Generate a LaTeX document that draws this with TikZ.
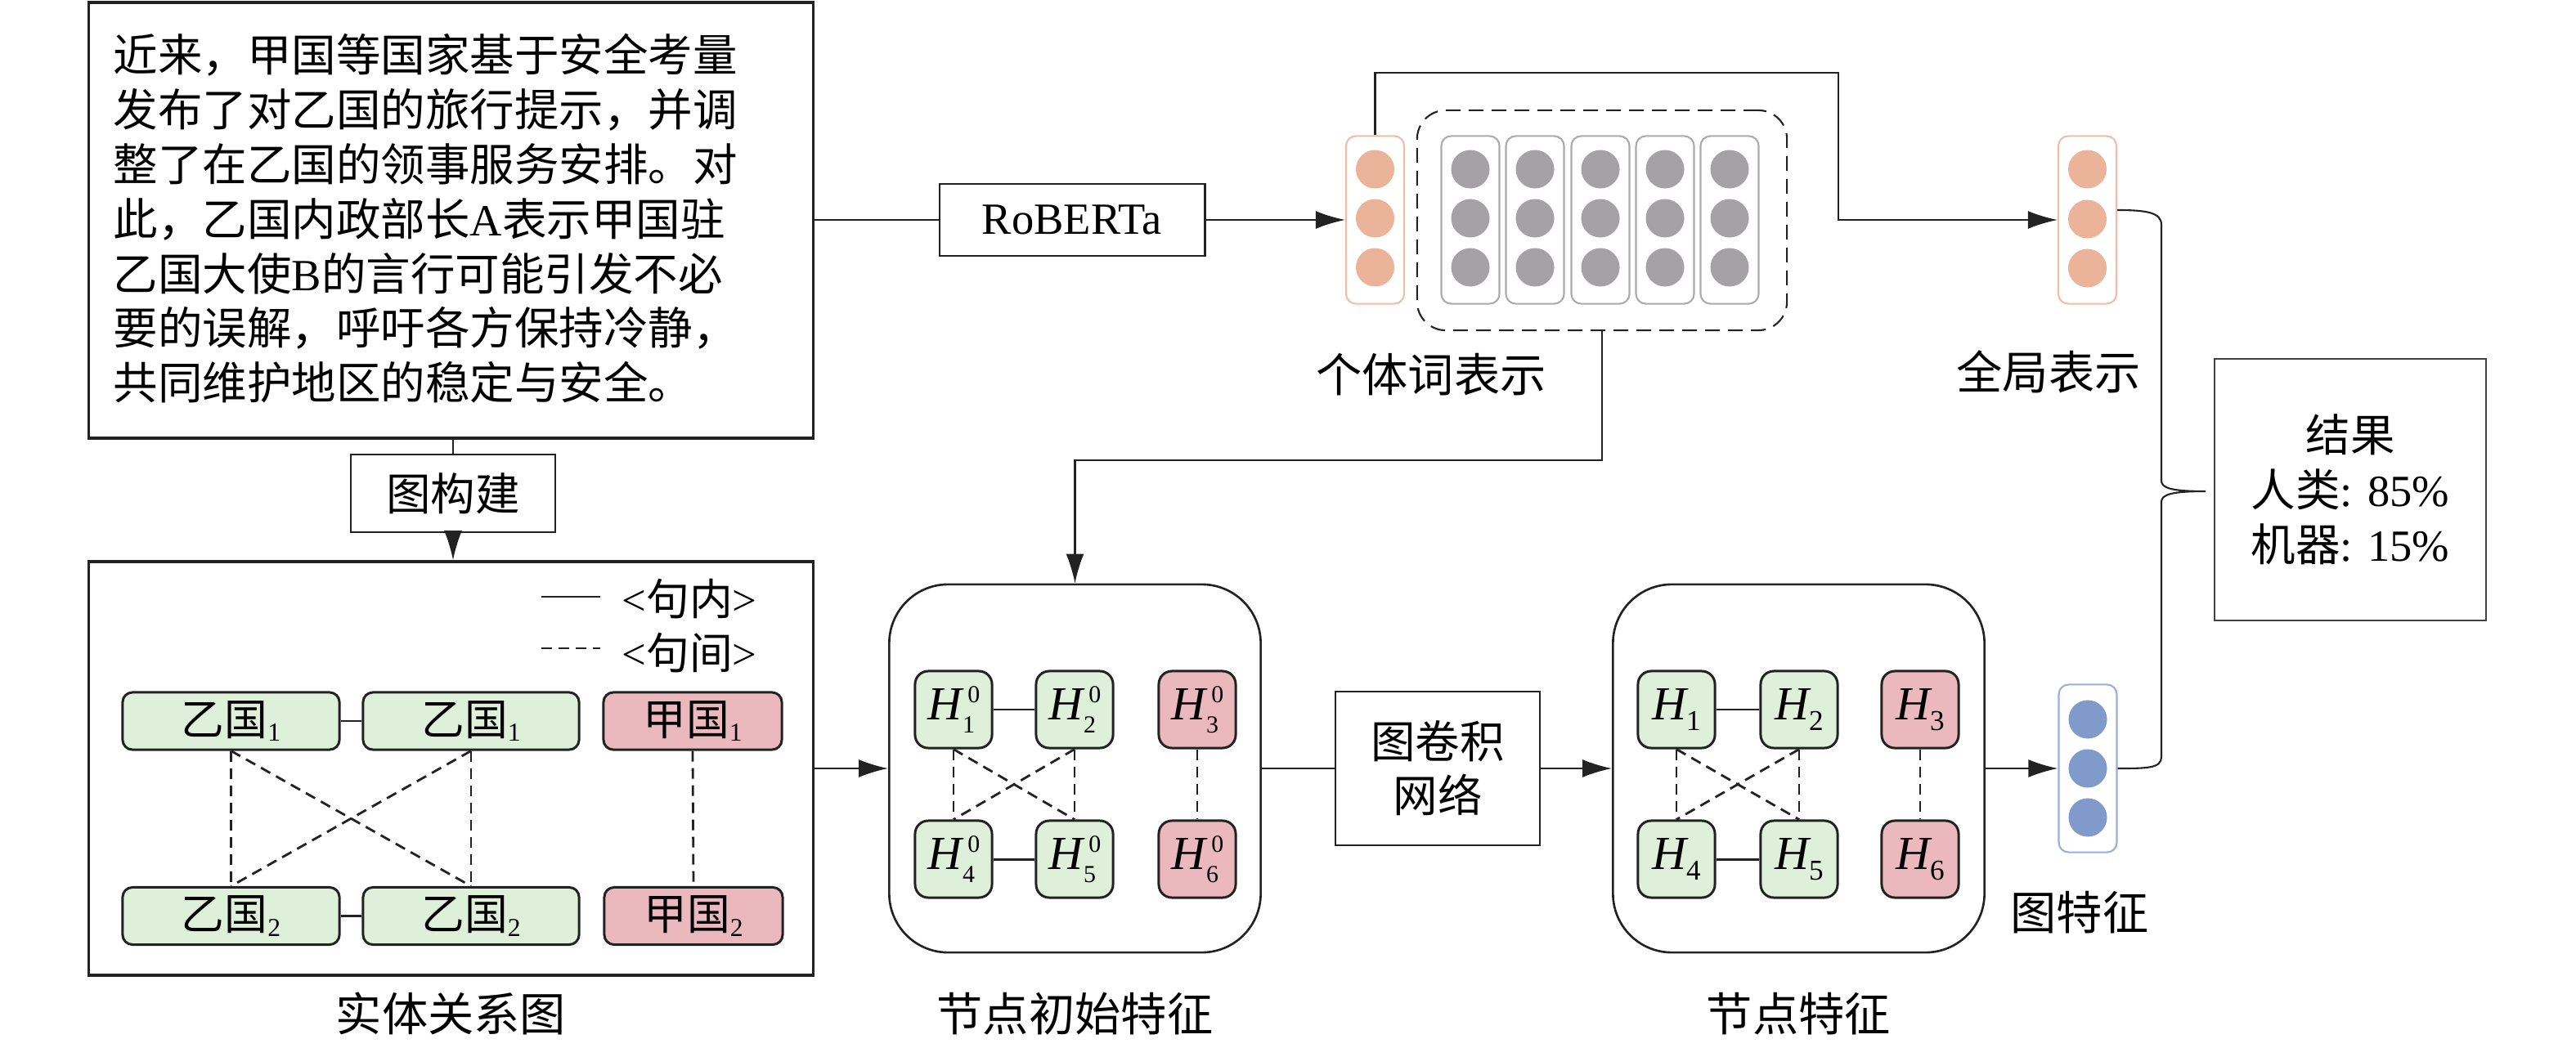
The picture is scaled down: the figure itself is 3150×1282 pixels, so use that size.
\documentclass[tikz,border=0pt]{standalone}
\usepackage{fontspec}
\setmainfont{Liberation Serif}
\newfontfamily\cjk{Noto Sans CJK SC}
\usetikzlibrary{arrows.meta,calc}

\definecolor{gfill}{HTML}{DFF0DA}
\definecolor{pfill}{HTML}{EBB8BE}
\definecolor{ocirc}{HTML}{EBB49A}
\definecolor{oline}{HTML}{F0BDA6}
\definecolor{gcirc}{HTML}{A5A2A5}
\definecolor{gline}{HTML}{ABABAB}
\definecolor{bcirc}{HTML}{7F9ACB}
\definecolor{bline}{HTML}{98AEDB}
\definecolor{ink}{HTML}{222222}

\newcommand{\zh}[1]{{\cjk #1}}
\newcommand{\Hsupsub}[2]{\textit{H}\rlap{\kern1.2pt\raisebox{0.37em}{\fontsize{8.5}{8.5}\selectfont #1}}\kern-0.6pt\raisebox{-0.27em}{\fontsize{8.5}{8.5}\selectfont #2}\kern1.5pt}
\newcommand{\Hsub}[1]{\textit{H}\kern-0.8pt\raisebox{-0.22em}{\fontsize{10}{10}\selectfont #1}}
\newcommand{\esub}[1]{\raisebox{-0.15em}{\fontsize{9}{9}\selectfont #1}}

\tikzset{
  bigbox/.style={draw=ink, line width=0.95pt, inner sep=0pt},
  procbox/.style={draw=ink, line width=0.8pt, inner sep=0pt, font=\fontsize{15.5}{18.8}\selectfont},
  ent/.style={draw=ink, line width=0.85pt, rounded corners=0.12cm, minimum height=0.70cm, inner sep=0pt, font=\fontsize{15}{18}\selectfont},
  gent/.style={ent, fill=gfill},
  pent/.style={ent, fill=pfill},
  hnode/.style={draw=ink, line width=0.85pt, rounded corners=0.16cm, minimum width=0.94cm, minimum height=0.94cm, inner sep=0pt, font=\fontsize{16.5}{18}\selectfont},
  ghn/.style={hnode, fill=gfill},
  phn/.style={hnode, fill=pfill},
  stage/.style={draw=ink, line width=0.75pt, rounded corners=0.72cm, minimum width=4.54cm, minimum height=4.50cm},
  vecbox/.style={rounded corners=0.12cm, line width=0.6pt, minimum width=0.71cm, minimum height=2.05cm},
  vdot/.style={circle, inner sep=0pt, minimum size=0.47cm},
  conn/.style={draw=ink, line width=0.6pt},
  arr/.style={conn, -{Latex[length=0.36cm,width=0.22cm]}},
  intra/.style={draw=ink, line width=0.85pt},
  inter/.style={draw=ink, line width=0.8pt, dash pattern=on 0.13cm off 0.08cm},
  captxt/.style={font=\fontsize{16}{18}\selectfont\cjk},
  bodytxt/.style={font=\fontsize{15.5}{19}\selectfont\cjk, inner sep=0pt, anchor=base west},
}

\begin{document}
\begin{tikzpicture}[x=0.01cm,y=-0.01cm]
\useasboundingbox (0,0) rectangle (3150,1282);

% ---------- input text ----------
\node[bigbox, minimum width=8.85cm, minimum height=5.33cm] (txtbox) at (551.5,269.5) {};
\node[bodytxt] (t1) at (138,88) {近来，甲国等国家基于安全考量};
\node[bodytxt] (t2) at (138,154.8) {发布了对乙国的旅行提示，并调};
\node[bodytxt] (t3) at (138,221.6) {整了在乙国的领事服务安排。对};
\node[bodytxt] (t4) at (138,288.4) {此，乙国内政部长{\rmfamily A}表示甲国驻};
\node[bodytxt] (t5) at (138,355.2) {乙国大使{\rmfamily B}的言行可能引发不必};
\node[bodytxt] (t6) at (138,422) {要的误解，呼吁各方保持冷静，};
\node[bodytxt] (t7) at (138,488.8) {共同维护地区的稳定与安全。};

% ---------- graph construction ----------
\node[procbox, minimum width=2.5cm, minimum height=0.95cm] (build) at (554,603.5) {\zh{图构建}};
\node[bigbox, minimum width=8.85cm, minimum height=5.06cm] (entbox) at (551.5,940) {};

% legend
\node[font=\fontsize{15}{18}\selectfont, anchor=west, inner sep=0pt] (lg1) at (760,733) {<\zh{句内}>};
\node[font=\fontsize{15}{18}\selectfont, anchor=west, inner sep=0pt] (lg2) at (760,799) {<\zh{句间}>};
\coordinate (ls1a) at (662,730); \coordinate (ls1b) at (734,730);
\coordinate (ls2a) at (662,793); \coordinate (ls2b) at (734,793);
\draw[intra] (ls1a) -- (ls1b);
\draw[inter] (ls2a) -- (ls2b);

% entity nodes
\node[gent, minimum width=2.65cm] (e1) at (282.5,882) {\zh{乙国}\esub{1}};
\node[gent, minimum width=2.64cm] (e2) at (576,882) {\zh{乙国}\esub{1}};
\node[pent, minimum width=2.18cm] (e3) at (847,882) {\zh{甲国}\esub{1}};
\node[gent, minimum width=2.65cm] (e4) at (282.5,1120.5) {\zh{乙国}\esub{2}};
\node[gent, minimum width=2.64cm] (e5) at (576,1120.5) {\zh{乙国}\esub{2}};
\node[pent, minimum width=2.18cm] (e6) at (848,1120.5) {\zh{甲国}\esub{2}};
\draw[intra] (e1) -- (e2);
\draw[intra] (e4) -- (e5);
\draw[inter] (e1.south) -- (e4.north);
\draw[inter] (e2.south) -- (e5.north);
\draw[inter] (e1.south) -- (e5.north);
\draw[inter] (e2.south) -- (e4.north);
\draw[inter] (e3.south) -- (e6.north);

\node[captxt] (cap1) at (551.5,1240) {实体关系图};

% ---------- RoBERTa branch ----------
\node[procbox, minimum width=3.24cm, minimum height=0.88cm] (rob) at (1311,269) {RoBERTa};

\node[vecbox, draw=oline] (ov) at (1681.5,269) {};
\foreach \j/\y in {1/207,2/267,3/327}
  \node[vdot, fill=ocirc] (ov\j) at (1681.5,\y) {};

\node[draw=ink, line width=0.6pt, dash pattern=on 0.18cm off 0.1cm, rounded corners=0.35cm, minimum width=4.52cm, minimum height=2.69cm] (dr) at (1959,269.5) {};
\foreach \i/\x in {1/1798,2/1877,3/1957,4/2036,5/2115} {
  \node[vecbox, draw=gline] (g\i) at (\x,269) {};
  \foreach \j/\y in {1/207,2/267,3/327}
    \node[vdot, fill=gcirc] (g\i\j) at (\x,\y) {};
}
\node[captxt] (cap2) at (1750,458) {个体词表示};

\node[vecbox, draw=oline] (gv) at (2552.5,269) {};
\foreach \j/\y in {1/207,2/268,3/328}
  \node[vdot, fill=ocirc] (gv\j) at (2552.5,\y) {};
\node[captxt] (cap3) at (2505,455) {全局表示};

% ---------- GCN stages ----------
\node[stage] (init) at (1314.5,940) {};
\node[ghn] (a1) at (1166,868) {\Hsupsub{0}{1}};
\node[ghn] (a2) at (1314,868) {\Hsupsub{0}{2}};
\node[phn] (a3) at (1464,868) {\Hsupsub{0}{3}};
\node[ghn] (a4) at (1166,1051) {\Hsupsub{0}{4}};
\node[ghn] (a5) at (1314,1051) {\Hsupsub{0}{5}};
\node[phn] (a6) at (1464,1051) {\Hsupsub{0}{6}};
\draw[intra] (a1) -- (a2);
\draw[intra] (a4) -- (a5);
\draw[inter] (a1.south) -- (a4.north);
\draw[inter] (a2.south) -- (a5.north);
\draw[inter] (a1.south) -- (a5.north);
\draw[inter] (a2.south) -- (a4.north);
\draw[inter] (a3.south) -- (a6.north);
\node[captxt] (cap4) at (1314.5,1240) {节点初始特征};

\node[procbox, minimum width=2.5cm, minimum height=1.88cm, align=center] (gcn) at (1758,940) {\zh{图卷积}\\\zh{网络}};

\node[stage] (feat) at (2199.5,940) {};
\node[ghn] (b1) at (2050,868) {\Hsub{1}};
\node[ghn] (b2) at (2200,868) {\Hsub{2}};
\node[phn] (b3) at (2348,868) {\Hsub{3}};
\node[ghn] (b4) at (2050,1051) {\Hsub{4}};
\node[ghn] (b5) at (2200,1051) {\Hsub{5}};
\node[phn] (b6) at (2348,1051) {\Hsub{6}};
\draw[intra] (b1) -- (b2);
\draw[intra] (b4) -- (b5);
\draw[inter] (b1.south) -- (b4.north);
\draw[inter] (b2.south) -- (b5.north);
\draw[inter] (b1.south) -- (b5.north);
\draw[inter] (b2.south) -- (b4.north);
\draw[inter] (b3.south) -- (b6.north);
\node[captxt] (cap5) at (2199.5,1240) {节点特征};

\node[vecbox, draw=bline] (bv) at (2553,940) {};
\foreach \j/\y in {1/880,2/940,3/1000}
  \node[vdot, fill=bcirc] (bv\j) at (2553,\y) {};
\node[captxt] (cap6) at (2543,1116) {图特征};

% ---------- result ----------
\node[draw=black!75, line width=0.5pt, minimum width=3.32cm, minimum height=3.20cm, align=center, font=\fontsize{15.5}{19}\selectfont] (res) at (2874,599) {\zh{结果}\\\zh{人类}: 85\%\\\zh{机器}: 15\%};

% ---------- connectors ----------
\draw[conn] (build.north |- txtbox.south) -- (build.north);
\draw[arr] (build.south) -- (build.south |- entbox.north);
\draw[conn] (txtbox.east |- rob.west) -- (rob.west);
\draw[arr] (rob.east) -- (ov.west);
\coordinate (tr) at (2248,89);
\draw[arr] (ov.north) |- (tr) |- (gv.west);
\coordinate (dm) at (1959,563);
\draw[arr] (dr.south) -- (dm) -| (init.north);
\draw[arr] (entbox.east) -- (init.west);
\draw[conn] (init.east) -- (gcn.west);
\draw[arr] (gcn.east) -- (feat.west);
\draw[arr] (feat.east) -- (bv.west);

% brace joining the two representations
\coordinate (bs) at ($(gv.east)+(0,-12)$);
\coordinate (be) at (bv.east);
\coordinate (tip) at (2697,601);
\draw[conn] (bs) .. controls (2625,257) and (2643,260) .. (2643,275)
  -- (2643,588) .. controls (2643,597) and (2655,601) .. (tip)
  .. controls (2655,601) and (2643,605) .. (2643,614)
  -- (2643,926) .. controls (2643,940) and (2625,940) .. (be);
\end{tikzpicture}
\end{document}
